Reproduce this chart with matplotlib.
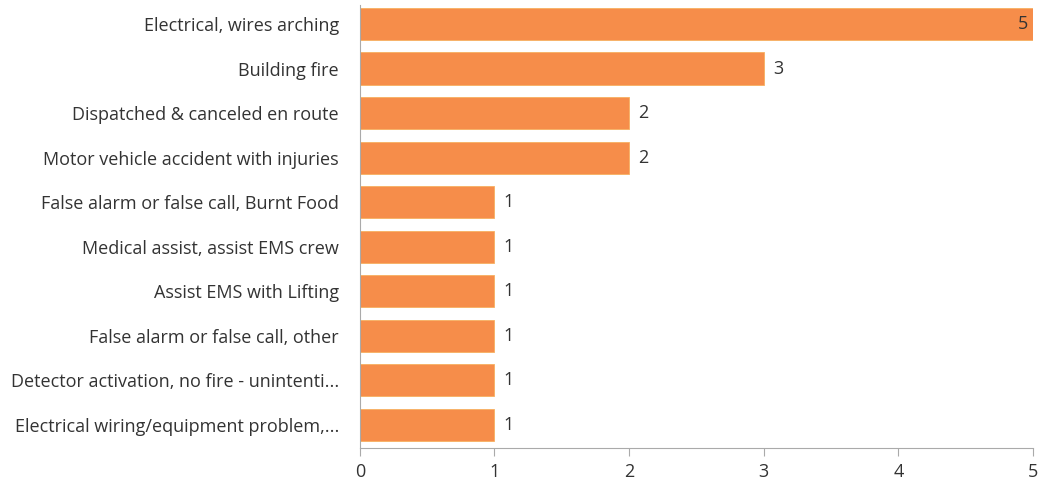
import matplotlib
matplotlib.use("Agg")
import matplotlib.pyplot as plt

categories = [
    "Electrical, wires arching",
    "Building fire",
    "Dispatched & canceled en route",
    "Motor vehicle accident with injuries",
    "False alarm or false call, Burnt Food",
    "Medical assist, assist EMS crew",
    "Assist EMS with Lifting",
    "False alarm or false call, other",
    "Detector activation, no fire - unintenti...",
    "Electrical wiring/equipment problem,...",
]
counts = [5, 3, 2, 2, 1, 1, 1, 1, 1, 1]
x_ticks = [0, 1, 2, 3, 4, 5]

plt.rcParams["font.family"] = ["Open Sans", "DejaVu Sans"]

bar_color = "#F68D4A"
text_color = "#333333"
axis_color = "#AAAAAA"
fs = 13

fig = plt.figure(figsize=(10.52, 4.83), dpi=100)
ax = fig.add_axes([0.342, 0.0725, 0.640, 0.9175])

pos = list(range(len(categories)))
ax.barh(pos, counts, height=0.72, color=bar_color, edgecolor="#F7B060", linewidth=0.6)

for y, v in zip(pos, counts):
    if v == max(counts):
        ax.text(v - 0.04, y, str(v), ha="right", va="center", fontsize=fs, color=text_color)
    else:
        ax.text(v + 0.07, y, str(v), ha="left", va="center", fontsize=fs, color=text_color)

ax.set_xlim(0, 5)
ax.set_ylim(9.52, -0.43)
ax.set_yticks(pos)
ax.set_yticklabels(categories, fontsize=fs, color=text_color)
ax.set_xticks(x_ticks)
ax.set_xticklabels([str(t) for t in x_ticks], fontsize=fs, color=text_color)

for side in ["top", "right"]:
    ax.spines[side].set_visible(False)
ax.spines["left"].set_color(axis_color)
ax.spines["left"].set_linewidth(0.8)
ax.spines["bottom"].set_color(axis_color)
ax.spines["bottom"].set_linewidth(0.8)
ax.tick_params(axis="y", length=0, pad=15)
ax.tick_params(axis="x", length=6, color=axis_color, pad=5)

fig.savefig("out.png", dpi=100)
